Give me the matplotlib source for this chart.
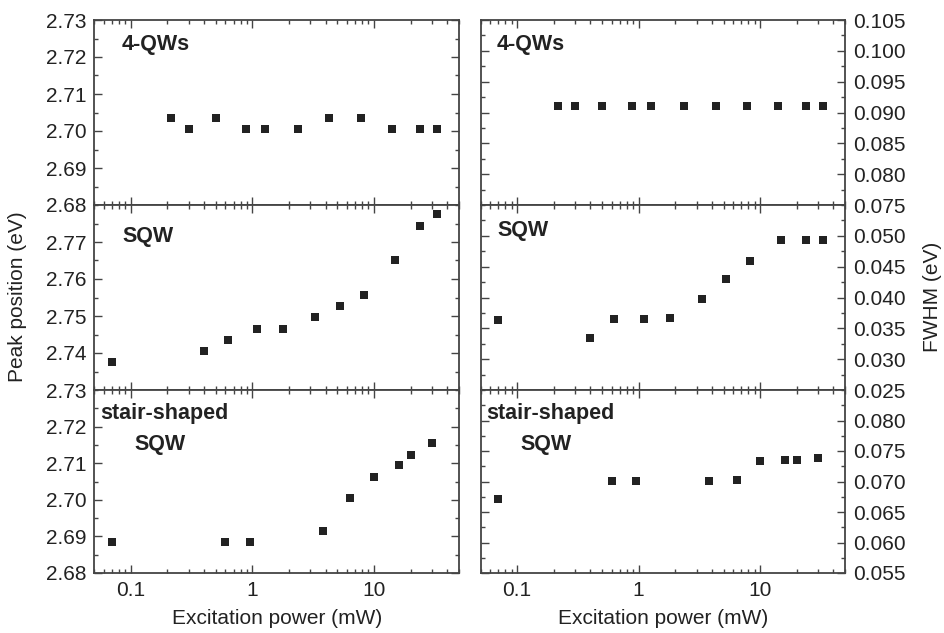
import numpy as np
import matplotlib
matplotlib.use('Agg')
import matplotlib.pyplot as plt
from matplotlib.ticker import MultipleLocator, LogLocator, NullFormatter, FixedLocator, FixedFormatter

plt.rcParams['font.family'] = ['Liberation Sans', 'DejaVu Sans']

# 4-QWs
qw4_power = [0.215, 0.30, 0.50, 0.88, 1.27, 2.36, 4.3, 7.8, 14, 24, 33]
qw4_peak = [2.7034, 2.7005, 2.7034, 2.7005, 2.7005, 2.7005, 2.7034, 2.7034, 2.7005, 2.7005, 2.7005]
qw4_fwhm = [0.091, 0.091, 0.091, 0.091, 0.091, 0.091, 0.091, 0.091, 0.091, 0.091, 0.091]

# SQW
sqw_power = [0.07, 0.40, 0.63, 1.1, 1.8, 3.3, 5.2, 8.3, 15, 24, 33]
sqw_peak = [2.7375, 2.7405, 2.7435, 2.7466, 2.7466, 2.7496, 2.7527, 2.7558, 2.7651, 2.7743, 2.7775]
sqw_fwhm = [0.0363, 0.0334, 0.0365, 0.0365, 0.0366, 0.0397, 0.0430, 0.0460, 0.0493, 0.0493, 0.0494]

# stair-shaped SQW
stair_power = [0.07, 0.60, 0.95, 3.8, 6.4, 10, 16, 20.3, 30]
stair_peak = [2.6886, 2.6886, 2.6886, 2.6914, 2.7004, 2.7063, 2.7094, 2.7123, 2.7154]
stair_fwhm = [0.0672, 0.0701, 0.0701, 0.0701, 0.0703, 0.0734, 0.0735, 0.0736, 0.0738]

left_lims = [(2.68, 2.73), (2.73, 2.78), (2.68, 2.73)]
right_lims = [(0.075, 0.105), (0.025, 0.055), (0.055, 0.085)]
left_ticks = [[2.68, 2.69, 2.70, 2.71, 2.72, 2.73],
              [2.73, 2.74, 2.75, 2.76, 2.77],
              [2.68, 2.69, 2.70, 2.71, 2.72]]
right_ticks = [[0.075, 0.080, 0.085, 0.090, 0.095, 0.100, 0.105],
               [0.025, 0.030, 0.035, 0.040, 0.045, 0.050],
               [0.055, 0.060, 0.065, 0.070, 0.075, 0.080]]

fig = plt.figure(figsize=(9.44, 6.33), dpi=100)
W, H = 944, 633
rows = [(20, 205), (205, 390), (390, 573)]
cols = [(94.3, 459), (480.6, 845)]

powers = [qw4_power, sqw_power, stair_power]
peaks = [qw4_peak, sqw_peak, stair_peak]
fwhms = [qw4_fwhm, sqw_fwhm, stair_fwhm]

fs = 15
tfs = 15.5
dark = '#222222'

for r, (ytop, ybot) in enumerate(rows):
    for c, (xl, xr) in enumerate(cols):
        ax = fig.add_axes([xl / W, 1 - ybot / H, (xr - xl) / W, (ybot - ytop) / H])
        yvals = peaks[r] if c == 0 else fwhms[r]
        ax.plot(powers[r], yvals, 's', color=dark, markersize=5.3, markeredgewidth=0)
        ax.set_xscale('log')
        ax.set_xlim(0.05, 50)
        lims = left_lims[r] if c == 0 else right_lims[r]
        ax.set_ylim(*lims)
        ticks = left_ticks[r] if c == 0 else right_ticks[r]
        fmt = '%.2f' if c == 0 else '%.3f'
        ax.yaxis.set_major_locator(FixedLocator(ticks))
        ax.yaxis.set_major_formatter(FixedFormatter([fmt % t for t in ticks]))
        ax.yaxis.set_minor_locator(MultipleLocator(0.005 if c == 0 else 0.0025))
        ax.xaxis.set_major_locator(FixedLocator([0.1, 1, 10]))
        ax.xaxis.set_minor_locator(LogLocator(base=10, subs=np.arange(2, 10), numticks=20))
        ax.xaxis.set_minor_formatter(NullFormatter())
        if r == 2:
            ax.set_xticklabels(['0.1', '1', '10'])
            ax.set_xlabel('Excitation power (mW)', fontsize=fs, color=dark, labelpad=6)
        else:
            ax.set_xticklabels([])
        ax.tick_params(which='both', direction='in', top=True, bottom=True,
                       left=True, right=True, color='#444444', labelsize=fs,
                       labelcolor=dark, width=1)
        ax.tick_params(which='major', length=6)
        ax.tick_params(which='minor', length=3)
        ax.tick_params(axis='y', which='major', pad=5.5)
        ax.tick_params(axis='x', which='major', pad=6)
        if c == 1:
            ax.tick_params(axis='y', which='both', labelleft=False, labelright=True)
        for s in ax.spines.values():
            s.set_linewidth(1.3)
            s.set_color('#444444')
        tx = 0.076 if c == 0 else 0.045
        if r == 0:
            ax.text(tx, 0.865, '4-QWs', transform=ax.transAxes, fontsize=tfs,
                    fontweight='bold', color=dark, va='center')
        elif r == 1:
            ax.text(tx, 0.83 if c == 0 else 0.86, 'SQW', transform=ax.transAxes,
                    fontsize=tfs, fontweight='bold', color=dark, va='center')
        else:
            ax.text(0.015, 0.874, 'stair-shaped', transform=ax.transAxes,
                    fontsize=tfs, fontweight='bold', color=dark, va='center')
            ax.text(0.11, 0.70, 'SQW', transform=ax.transAxes,
                    fontsize=tfs, fontweight='bold', color=dark, va='center')

fig.text(18 / W, 1 - 297 / H, 'Peak position (eV)', rotation=90, fontsize=fs,
         color=dark, ha='center', va='center')
fig.text(932 / W, 1 - 297 / H, 'FWHM (eV)', rotation=90, fontsize=fs,
         color=dark, ha='center', va='center')

fig.savefig('out.png', dpi=100)
